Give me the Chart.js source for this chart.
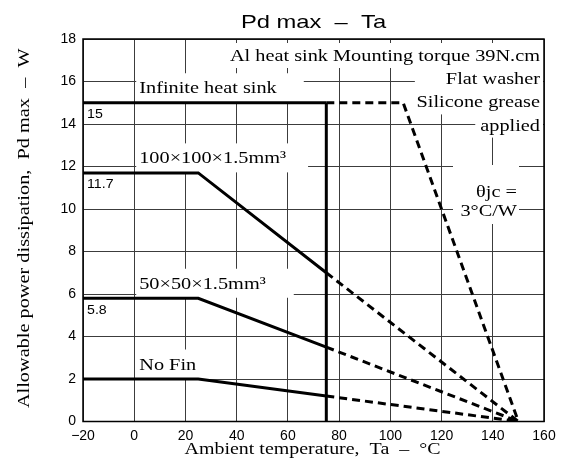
<!DOCTYPE html>
<html>
<head>
<meta charset="utf-8">
<title>Pd max – Ta</title>
<script src="https://cdn.jsdelivr.net/npm/chart.js@4.4.0/dist/chart.umd.min.js"></script>
<style>
  html, body { margin: 0; padding: 0; background: #fff; }
  #wrap { width: 566px; height: 469px; }
</style>
</head>
<body>
<div id="wrap"><canvas id="pdChart" width="566" height="469"></canvas></div>
<script>
// Pd max vs. ambient temperature derating curves

// ---------------------------------------------------------------------
// Data
// ---------------------------------------------------------------------
const taTicks = [-20, 0, 20, 40, 60, 80, 100, 120, 140, 160];
const pdTicks = [0, 2, 4, 6, 8, 10, 12, 14, 16, 18];

const curveNames = ["Infinite heat sink", "100×100×1.5mm³", "50×50×1.5mm³", "No Fin"];

// knee points of each curve (Ta in °C, Pd in W)
const infiniteTa = [-20, 75, 105, 150];
const infinitePd = [15, 15, 15, 0];
const fin100Ta = [-20, 25, 75, 150];
const fin100Pd = [11.7, 11.7, 7.0, 0];
const fin50Ta = [-20, 25, 75, 150];
const fin50Pd = [5.8, 5.8, 3.5, 0];
const noFinTa = [-20, 25, 75, 150];
const noFinPd = [2, 2, 1.2, 0];

// case limit at 75 °C, curves continue dashed past it
const limitTa = [75, 75];
const limitPd = [15, 0];
const dashFromTa = 75;

const noteLines = ["Al heat sink Mounting torque 39N.cm", "Flat washer", "Silicone grease", "applied"];
const thetaLines = ["θjc =", "3°C/W"];

// ---------------------------------------------------------------------
// Text helpers
// ---------------------------------------------------------------------
const SERIF = '"Liberation Serif", "Times New Roman", serif';
const SANS = '"Liberation Sans", Arial, sans-serif';
const NOTE_FONT = "17.5px " + SERIF;
const NOTE_SX = 1.16;

function drawText(ctx, text, x, y, o) {
  ctx.save();
  ctx.font = o.font;
  ctx.translate(x, y);
  if (o.rotate) ctx.rotate(o.rotate);
  ctx.scale(o.sx || 1, 1);
  ctx.textAlign = o.align || "left";
  ctx.textBaseline = "alphabetic";
  ctx.fillStyle = "#000";
  ctx.fillText(text, 0, 0);
  ctx.restore();
}

function textWidth(ctx, text, font, sx) {
  ctx.save();
  ctx.font = font;
  const w = ctx.measureText(text).width * (sx || 1);
  ctx.restore();
  return w;
}

function whiteBox(ctx, x0, y0, x1, y1) {
  ctx.save();
  ctx.fillStyle = "#fff";
  ctx.fillRect(x0, y0, x1 - x0, y1 - y0);
  ctx.restore();
}

// ---------------------------------------------------------------------
// Datasets
// ---------------------------------------------------------------------
function toPoints(ta, pd) {
  return ta.map((x, i) => ({ x, y: pd[i] }));
}

const curveSeries = [
  { ta: infiniteTa, pd: infinitePd, showValue: true, padR: 27 },
  { ta: fin100Ta, pd: fin100Pd, showValue: true, padR: 22 },
  { ta: fin50Ta, pd: fin50Pd, showValue: true, padR: 28 },
  { ta: noFinTa, pd: noFinPd, showValue: false, padR: 10 },
];

const lineBase = {
  borderColor: "#000",
  borderWidth: 3,
  pointRadius: 0,
  tension: 0,
  fill: false,
  borderCapStyle: "butt",
  borderJoinStyle: "miter",
};

const datasets = curveSeries.map((c, i) => ({
  ...lineBase,
  label: curveNames[i],
  data: toPoints(c.ta, c.pd),
  segment: {
    borderDash: (ctx) => (ctx.p0.parsed.x >= dashFromTa ? [8, 5] : undefined),
  },
}));

datasets.push({
  ...lineBase,
  label: "limit",
  data: toPoints(limitTa, limitPd),
});

// ---------------------------------------------------------------------
// Annotations: labels with white backing, value tags, titles, frame
// ---------------------------------------------------------------------
const notesPlugin = {
  id: "notes",
  beforeDatasetsDraw(chart) {
    const { ctx, chartArea: a } = chart;
    const xs = chart.scales.x;
    const ys = chart.scales.y;

    // curve names above each flat section
    curveSeries.forEach((c, i) => {
      const x = xs.getPixelForValue(0) + 5;
      const y = ys.getPixelForValue(c.pd[0]) - 9.5;
      const w = textWidth(ctx, curveNames[i], NOTE_FONT, NOTE_SX);
      whiteBox(ctx, x - 3, y - 20, x + w + c.padR, y + 9);
      drawText(ctx, curveNames[i], x, y, { font: NOTE_FONT, sx: NOTE_SX });
    });

    // mounting conditions, right aligned in the top corner
    const padL = [4, 31, 5, 5];
    const right = a.right - 4;
    noteLines.forEach((t, i) => {
      const y = a.top + 22 + i * 23.2;
      const w = textWidth(ctx, t, NOTE_FONT, NOTE_SX);
      whiteBox(ctx, right - w - padL[i], y - 18, a.right - 1, y + 7);
      drawText(ctx, t, right, y, { font: NOTE_FONT, sx: NOTE_SX, align: "right" });
    });

    // thermal resistance note
    const tx = a.left + 434;
    whiteBox(ctx, a.left + 370, a.top + 126, a.left + 436, a.top + 185);
    thetaLines.forEach((t, i) => {
      drawText(ctx, t, tx, a.top + 158 + i * 19.3, { font: NOTE_FONT, sx: NOTE_SX, align: "right" });
    });

    // plateau values just under each line
    curveSeries.forEach((c) => {
      if (!c.showValue) return;
      const y = ys.getPixelForValue(c.pd[0]) + 15.5;
      drawText(ctx, String(c.pd[0]), a.left + 4, y, { font: "12px " + SANS, sx: 1.18 });
    });
  },
  afterDraw(chart) {
    const { ctx, chartArea: a } = chart;

    ctx.save();
    ctx.strokeStyle = "#000";
    ctx.lineWidth = 1.5;
    ctx.strokeRect(a.left, a.top, a.right - a.left, a.bottom - a.top);
    ctx.restore();

    const cx = (a.left + a.right) / 2;
    drawText(ctx, "Pd max  –  Ta", cx, 28, { font: "19px " + SANS, sx: 1.25, align: "center" });
    drawText(ctx, "Ambient temperature,  Ta  –  °C", cx - 1, a.bottom + 32.5, {
      font: NOTE_FONT, sx: 1.14, align: "center",
    });
    drawText(ctx, "Allowable power dissipation,  Pd max  –  W", 28.5, (a.top + a.bottom) / 2 - 2, {
      font: NOTE_FONT, sx: 1.16, align: "center", rotate: -Math.PI / 2,
    });
  },
};

// ---------------------------------------------------------------------
// Chart
// ---------------------------------------------------------------------
new Chart(document.getElementById("pdChart"), {
  type: "line",
  data: { datasets },
  options: {
    responsive: false,
    animation: false,
    devicePixelRatio: 1,
    layout: { padding: { left: 0, right: 22, top: 39, bottom: 0 } },
    plugins: {
      legend: { display: false },
      tooltip: { enabled: false },
      title: { display: false },
    },
    scales: {
      x: {
        type: "linear",
        min: taTicks[0],
        max: taTicks[taTicks.length - 1],
        afterBuildTicks: (s) => { s.ticks = taTicks.map((v) => ({ value: v })); },
        afterFit: (s) => { s.height = 47.5; },
        ticks: {
          color: "#000",
          padding: 6,
          maxRotation: 0,
          font: { family: SANS, size: 14 },
          callback: (v) => (v < 0 ? "\u2212" + Math.abs(v) : String(v)),
        },
        grid: { color: "#3c3c3c", lineWidth: 1, drawTicks: false },
        border: { display: false },
      },
      y: {
        type: "linear",
        min: pdTicks[0],
        max: pdTicks[pdTicks.length - 1],
        afterBuildTicks: (s) => { s.ticks = pdTicks.map((v) => ({ value: v })); },
        afterFit: (s) => { s.width = 83; },
        ticks: {
          color: "#000",
          padding: 7,
          font: { family: SANS, size: 14 },
        },
        grid: { color: "#3c3c3c", lineWidth: 1, drawTicks: false },
        border: { display: false },
      },
    },
  },
  plugins: [notesPlugin],
});
</script>
</body>
</html>
